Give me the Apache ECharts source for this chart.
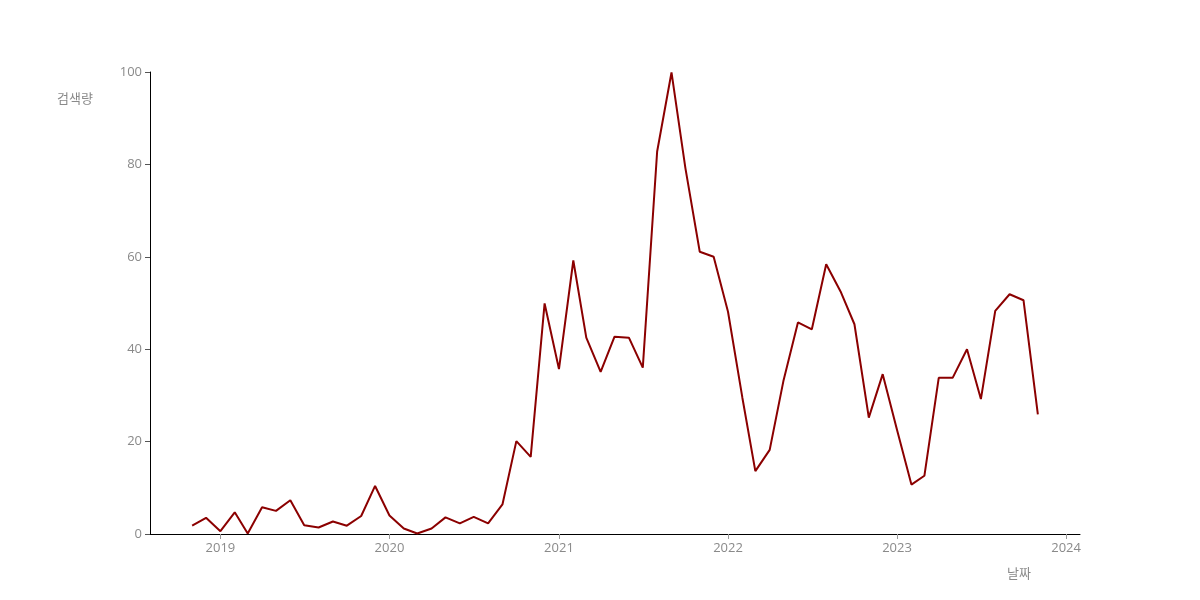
<!DOCTYPE html>
<html>
<head>
<meta charset="utf-8">
<script src="https://cdn.jsdelivr.net/npm/echarts@6/dist/echarts.min.js"></script>
<style>
  html, body { margin: 0; padding: 0; background: #fff; }
  #chart { width: 1200px; height: 600px; }
</style>
</head>
<body>
<div id="chart"></div>
<script>
// monthly search volume, Nov 2018 .. Nov 2023
const months = [
  '2018-11', '2018-12',
  '2019-01', '2019-02', '2019-03', '2019-04', '2019-05', '2019-06',
  '2019-07', '2019-08', '2019-09', '2019-10', '2019-11', '2019-12',
  '2020-01', '2020-02', '2020-03', '2020-04', '2020-05', '2020-06',
  '2020-07', '2020-08', '2020-09', '2020-10', '2020-11', '2020-12',
  '2021-01', '2021-02', '2021-03', '2021-04', '2021-05', '2021-06',
  '2021-07', '2021-08', '2021-09', '2021-10', '2021-11', '2021-12',
  '2022-01', '2022-02', '2022-03', '2022-04', '2022-05', '2022-06',
  '2022-07', '2022-08', '2022-09', '2022-10', '2022-11', '2022-12',
  '2023-01', '2023-02', '2023-03', '2023-04', '2023-05', '2023-06',
  '2023-07', '2023-08', '2023-09', '2023-10', '2023-11'
]
const volume = [
  1.8, 3.5,
  0.6, 4.7, 0.1, 5.8, 5.0, 7.3,
  1.9, 1.4, 2.7, 1.8, 3.9, 10.4,
  4.0, 1.2, 0.1, 1.2, 3.6, 2.3,
  3.7, 2.3, 6.4, 20.1, 16.7, 49.9,
  35.7, 59.2, 42.5, 35.1, 42.7, 42.5,
  36.0, 82.8, 99.9, 79.2, 61.1, 60.0,
  48.1, 29.5, 13.6, 18.2, 33.3, 45.8,
  44.3, 58.4, 52.5, 45.4, 25.2, 34.6,
  22.5, 10.7, 12.6, 33.8, 33.8, 40.0,
  29.2, 48.3, 51.9, 50.6, 25.9
]
const yearTicks = ['2019', '2020', '2021', '2022', '2023', '2024']

const ts = s => Date.UTC(+s.slice(0, 4), s.length > 4 ? +s.slice(5, 7) - 1 : 0, 1)
const tickPos = yearTicks.map(ts)

const chart = echarts.init(document.getElementById('chart'))
const labelFont = { color: '#8a8a8a', fontSize: 13, fontFamily: '"Open Sans", "Noto Sans CJK KR", sans-serif' }

chart.setOption({
  backgroundColor: '#fff',
  animation: false,
  grid: {
    left: 150,
    right: 120,
    top: 72,
    bottom: 66
  },
  xAxis: {
    type: 'value',
    min: Date.UTC(2018, 7, 2),
    max: Date.UTC(2024, 0, 31),
    axisLine: { lineStyle: { color: '#000', width: 1 } },
    axisTick: {
      show: true,
      length: 5,
      lineStyle: { color: '#999' },
      customValues: tickPos
    },
    axisLabel: Object.assign({
      margin: 8,
      customValues: tickPos,
      formatter: function (v) { return new Date(v).getUTCFullYear() + '' }
    }, labelFont),
    splitLine: { show: false }
  },
  yAxis: {
    type: 'value',
    min: 0,
    max: 100,
    interval: 20,
    axisLine: { show: true, lineStyle: { color: '#000', width: 1 } },
    axisTick: { show: true, length: 5, lineStyle: { color: '#555' } },
    axisLabel: Object.assign({ margin: 8 }, labelFont),
    splitLine: { show: false }
  },
  graphic: [
    { type: 'text', left: 57, top: 92, style: { text: '검색량', fill: '#8a8a8a', font: '13px "Noto Sans CJK KR", sans-serif' } },
    { type: 'text', left: 1007, top: 567, style: { text: '날짜', fill: '#8a8a8a', font: '13px "Noto Sans CJK KR", sans-serif' } }
  ],
  series: [{
    type: 'line',
    data: months.map((m, i) => [ts(m), volume[i]]),
    showSymbol: false,
    lineStyle: { color: '#8b0000', width: 2 },
    itemStyle: { color: '#8b0000' }
  }]
})
</script>
</body>
</html>
